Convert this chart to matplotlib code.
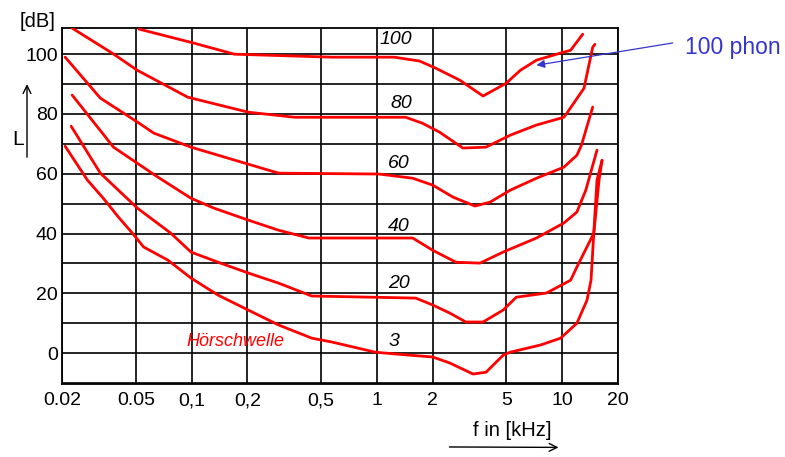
import numpy as np
import matplotlib.pyplot as plt

plt.rcParams['font.family'] = ['Liberation Sans', 'DejaVu Sans']

# equal-loudness contours, frequency in kHz, level in dB
f_100 = [0.052, 0.103, 0.170, 0.57, 1.24, 1.70, 2.08, 2.80, 3.74, 4.99, 5.94, 7.26, 10.2, 11.1, 12.9]
L_100 = [108.4, 103.7, 100.0, 99.0, 99.0, 97.7, 95.3, 91.3, 86.0, 90.3, 94.6, 98.0, 100.7, 101.3, 106.7]

f_80 = [0.0227, 0.0374, 0.051, 0.0955, 0.202, 0.36, 1.43, 1.76, 2.18, 2.91, 3.88, 5.24, 7.26, 10.2, 10.6, 13.1, 14.6, 15.0]
L_80 = [108.7, 100.3, 94.6, 85.6, 80.6, 78.9, 78.9, 76.9, 73.9, 68.6, 68.9, 72.9, 76.3, 78.9, 80.3, 88.6, 102.3, 103.3]

f_60 = [0.0208, 0.0322, 0.051, 0.0625, 0.0993, 0.210, 0.295, 1.03, 1.56, 2.0, 2.57, 3.38, 4.08, 5.24, 7.26, 10.2, 12.0, 12.7, 14.6]
L_60 = [99.0, 85.3, 77.3, 73.6, 68.9, 62.9, 60.2, 59.9, 58.5, 56.2, 52.2, 49.2, 50.5, 54.5, 58.5, 62.2, 66.2, 69.6, 82.3]

f_40 = [0.0227, 0.0379, 0.051, 0.0657, 0.0993, 0.132, 0.202, 0.295, 0.429, 1.56, 2.0, 2.67, 3.60, 4.80, 7.26, 10.2, 12.0, 13.4, 15.4]
L_40 = [86.3, 68.9, 63.5, 58.9, 51.8, 48.5, 44.5, 41.1, 38.5, 38.5, 34.4, 30.4, 30.1, 33.8, 38.5, 43.5, 47.2, 54.5, 67.9]

f_20 = [0.0224, 0.0322, 0.051, 0.0773, 0.0993, 0.139, 0.202, 0.295, 0.445, 1.62, 2.0, 2.47, 3.02, 3.74, 4.80, 5.65, 8.23, 11.1, 12.0, 14.8, 15.4, 16.4]
L_20 = [75.9, 60.2, 48.5, 40.1, 33.8, 30.4, 26.8, 23.4, 19.1, 18.4, 16.1, 13.4, 10.4, 10.4, 14.4, 18.7, 20.1, 24.4, 28.8, 40.1, 57.9, 64.5]

f_3 = [0.0208, 0.0274, 0.0334, 0.0403, 0.048, 0.0551, 0.0745, 0.0993, 0.139, 0.202, 0.295, 0.445, 0.572, 0.98, 1.50, 2.0, 2.47, 3.30, 3.88, 4.80, 5.24, 7.63, 9.80, 12.0, 13.6, 14.3, 14.8, 15.8, 16.4]
L_3 = [69.2, 57.9, 51.8, 45.5, 40.1, 35.5, 31.1, 25.1, 19.4, 14.4, 9.4, 5.0, 3.7, 0.3, -0.7, -1.3, -3.3, -7.0, -6.4, -0.7, 0.3, 2.7, 5.0, 10.0, 17.7, 24.4, 40.1, 57.9, 64.5]

curves = [(f_100, L_100), (f_80, L_80), (f_60, L_60), (f_40, L_40), (f_20, L_20), (f_3, L_3)]

phon_labels = ["100", "80", "60", "40", "20", "3"]
label_f = [1.27, 1.36, 1.32, 1.32, 1.32, 1.24]
label_L = [105.0, 83.6, 63.5, 42.5, 23.4, 4.0]

x_ticks = [0.02, 0.05, 0.1, 0.2, 0.5, 1, 2, 5, 10, 20]
x_ticklabels = ["0.02", "0.05", "0,1", "0,2", "0,5", "1", "2", "5", "10", "20"]
y_ticks = list(range(-10, 101, 10))
y_ticklabels = [str(v) if v % 20 == 0 else "" for v in y_ticks]

fig = plt.figure(figsize=(7.85, 4.57), dpi=100)
ax = fig.add_axes([0.079, 0.160, 0.7083, 0.779])

for f, L in curves:
    ax.plot(f, L, color='red', lw=2.0, solid_capstyle='round', zorder=3)

ax.set_xscale('log')
ax.set_xlim(0.02, 20)
ax.set_ylim(-10.3, 108.8)
ax.set_xticks(x_ticks)
ax.set_xticklabels(x_ticklabels)
ax.minorticks_off()
ax.set_yticks(y_ticks)
ax.set_yticklabels(y_ticklabels)
ax.tick_params(length=0, labelsize=14, pad=6)
ax.tick_params(axis='y', pad=3)
ax.grid(True, color='black', lw=1.2)
for s in ax.spines.values():
    s.set_linewidth(1.3)

for t, f, L in zip(phon_labels, label_f, label_L):
    ax.text(f, L, t, fontsize=14, style='italic', ha='center', va='center', zorder=4)
ax.text(0.172, 4.0, "Hörschwelle", color='red', fontsize=13, style='italic',
        ha='center', va='center', zorder=4)

# axis captions
fig.text(0.0484, 0.954, "[dB]", fontsize=14.5, ha='center', va='center')
fig.text(0.0229, 0.694, "L", fontsize=15, ha='center', va='center')
ax.annotate("", xy=(0.0344, 0.822), xytext=(0.0344, 0.650), xycoords='figure fraction',
            arrowprops=dict(arrowstyle='->', lw=1.0, color='black', mutation_scale=14))
fig.text(0.652, 0.059, "f in [kHz]", fontsize=14.5, ha='center', va='center')
ax.annotate("", xy=(0.715, 0.021), xytext=(0.569, 0.022), xycoords='figure fraction',
            arrowprops=dict(arrowstyle='->', lw=1.0, color='black', mutation_scale=14))

# callout
blue = '#3535cc'
fig.text(0.8726, 0.895, "100 phon", fontsize=16.5, color=blue, ha='left', va='center')
ax.annotate("", xy=(7.26, 96.3), xycoords='data', xytext=(0.857, 0.906), textcoords='figure fraction',
            arrowprops=dict(arrowstyle='-|>', lw=0.9, color=blue, mutation_scale=12, shrinkA=0, shrinkB=0))

fig.savefig("out.png", dpi=100, facecolor='white')
